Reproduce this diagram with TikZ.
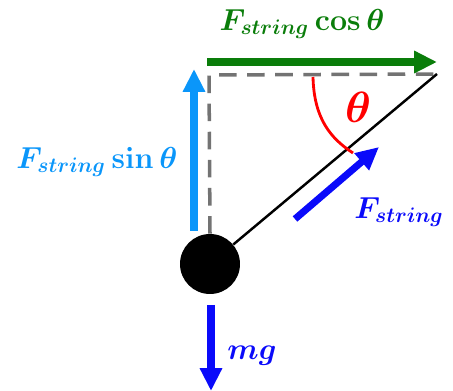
\documentclass[tikz,border=0pt]{standalone}
\usepackage{amsmath}
\usepackage{xcolor}
\usetikzlibrary{arrows.meta}

\definecolor{forcegreen}{RGB}{10,125,10}
\definecolor{skyblue}{RGB}{10,150,250}
\definecolor{forceblue}{RGB}{10,10,250}

\tikzset{
  force/.style={line width=4pt, -{Triangle[length=13pt, width=12pt]}},
  lbl/.style={font=\fontsize{18.5}{20}\selectfont\boldmath, inner sep=0pt}
}

\begin{document}
\begin{tikzpicture}[x=0.02cm, y=-0.02cm]
    \useasboundingbox (0,0) rectangle (453,391);

    % Ball and string
    \node[circle, fill=black, minimum size=1.2cm, inner sep=0pt] (ball) at (210,264) {};
    \coordinate (corner) at (209,75);
    \coordinate (top) at (437,74);
    \draw[gray!90!black, line width=2pt, dash pattern=on 10pt off 6pt] (ball.north) -- (corner) -- (top);
    \draw[line width=1.4pt] (ball) -- (top);

    % Horizontal component
    \coordinate (hs) at (207,62);
    \coordinate (he) at (437,62);
    \draw[force, forcegreen] (hs) -- (he);
    \node[lbl, text=forcegreen] (hlabel) at (302,24) {$F_{string}\cos\theta$};

    % Vertical component
    \coordinate (vs) at (194,231);
    \coordinate (ve) at (194,69);
    \draw[force, skyblue] (vs) -- (ve);
    \node[lbl, text=skyblue] (vlabel) at (97,162) {$F_{string}\sin\theta$};

    % Tension
    \coordinate (ts) at (295,219);
    \coordinate (te) at (379,147);
    \draw[force, forceblue] (ts) -- (te);
    \node[lbl, text=forceblue] (tlabel) at (399,212) {$F_{string}$};

    % Weight
    \coordinate (ws) at (211,305);
    \coordinate (we) at (211,391);
    \draw[force, forceblue] (ws) -- (we);
    \node[lbl, text=forceblue] (wlabel) at (252,356) {$mg$};

    % Angle
    \coordinate (as) at (313,77);
    \coordinate (ae) at (353,153);
    \draw[red, line width=1.6pt] (as) .. controls (314,118) and (330,138) .. (ae);
    \node[lbl, text=red, font=\fontsize{27}{28}\selectfont\boldmath] (theta) at (358,107) {$\theta$};
\end{tikzpicture}
\end{document}
